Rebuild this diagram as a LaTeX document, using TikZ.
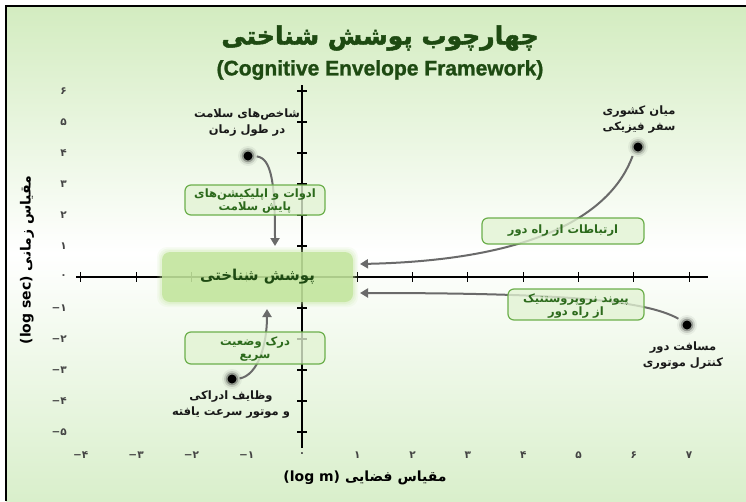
\documentclass[tikz,border=0pt]{standalone}
\usepackage{fontspec}
\usetikzlibrary{arrows.meta}
\TeXXeTstate=1
\setmainfont{Liberation Sans}
\newfontfamily\fa[Script=Arabic]{DejaVu Sans}
\newfontfamily\fab[Script=Arabic]{DejaVu Sans Bold}
\newfontfamily\fatitle[Script=Arabic,FakeBold=2]{DejaVu Sans Bold}
\newfontfamily\heavysans[FakeBold=1.2]{Liberation Sans Bold}
\newfontfamily\fanum{DejaVu Sans Bold}

\definecolor{bgtop}{HTML}{D3ECC0}
\definecolor{bgbot}{HTML}{D9EFCB}
\definecolor{titlegreen}{HTML}{1E4A12}
\definecolor{boxtext}{HTML}{2C6A1C}
\definecolor{boxfill}{HTML}{E2F3D3}
\definecolor{boxline}{HTML}{6CAF4C}
\definecolor{envfill}{HTML}{C2E59C}
\definecolor{curvegray}{HTML}{6A6A6A}
\definecolor{ticktext}{HTML}{444444}

% glowing black marker
\newcommand\glowdot[2]{%
  \foreach \r/\o in {10/0.05,8/0.12,6.2/0.25}
    \fill[black,opacity=\o] (#2) circle (\r pt);
  \node[dotmark] (#1) at (#2) {};}

\tikzset{
  axisline/.style={line width=2pt,black},
  tickline/.style={line width=1.1pt,black},
  ticklab/.style={font=\fanum\fontsize{10.5}{12}\selectfont,text=ticktext,inner sep=0pt},
  axislab/.style={font=\fab\fontsize{14}{16}\selectfont,text=black,inner sep=0pt},
  dotmark/.style={circle,fill=black,inner sep=0pt,minimum size=9pt},
  ptlabel/.style={font=\fab\fontsize{11.5}{16}\selectfont,text=black!90,align=center,inner sep=0pt},
  notebox/.style={draw=boxline,line width=1.2pt,fill=boxfill,fill opacity=0.78,text opacity=1,
    rounded corners=6pt,text=boxtext,align=center,inner sep=0pt,
    font=\fab\fontsize{11.5}{13}\selectfont},
  twoline/.style={text height=25pt,text depth=4pt},
  envbox/.style={fill=envfill,fill opacity=0.82,text opacity=1,rounded corners=8pt,
    minimum width=191pt,minimum height=50pt,inner sep=0pt,text=titlegreen,
    font=\fab\fontsize{15}{18}\selectfont},
  link/.style={curvegray,line width=2pt,-{Triangle[length=8pt,width=9pt]}},
}

\begin{document}
\begin{tikzpicture}[x=1pt,y=-1pt]
\useasboundingbox (0,0) rectangle (746,501);
\fill[white] (0,0) rectangle (746,501);
\shade[top color=bgtop,bottom color=bgbot,middle color=white] (6,6) rectangle (746,501);
\draw[line width=2pt] (6,501) -- (6,6) -- (746,6);

% titles
\node[font=\fatitle\fontsize{25}{30}\selectfont,text=titlegreen] (title) at (380,38)
  {\beginR چهارچوب پوشش شناختی\endR};
\node[font=\heavysans\fontsize{21}{24}\selectfont,text=titlegreen] (subtitle) at (380,70)
  {(Cognitive Envelope Framework)};

% axes
\draw[axisline] (76,277) -- (708,277);
\draw[axisline] (302,85) -- (302,448);
\foreach \k in {-4,...,7}
  \draw[tickline] ({302+55.3*\k},272) -- ++(0,10);
\foreach \k in {-6,...,5}
  \draw[tickline] (297,{277+31*\k}) -- ++(10,0);

\foreach \k/\t in {-4/−۴,-3/−۳,-2/−۲,-1/−۱,0/۰,1/۱,2/۲,3/۳,4/۴,5/۵,6/۶,7/۷}
  \node[ticklab] (xl\k) at ({302+55.3*\k},455) {\t};
\foreach \k/\t in {6/۶,5/۵,4/۴,3/۳,2/۲,1/۱,0/۰,-1/−۱,-2/−۲,-3/−۳,-4/−۴,-5/−۵}
  \node[ticklab,anchor=east] (yl\k) at (67,{277-31*\k}) {\t};

\node[axislab] (xlabel) at (365,478) {\beginR مقیاس فضایی \beginL(log m)\endL\endR};
\node[axislab,rotate=90] (ylabel) at (27,260) {\beginR مقیاس زمانی \beginL(log sec)\endL\endR};

% markers and their labels
\glowdot{pA}{248,156}
\glowdot{pB}{638,147}
\glowdot{pC}{687,325}
\glowdot{pD}{232,379}

\node[ptlabel] (lA) at (247,123) {\beginR شاخص‌های سلامت\endR\\\beginR در طول زمان\endR};
\node[ptlabel] (lB) at (639,120) {\beginR میان کشوری\endR\\\beginR سفر فیزیکی\endR};
\node[ptlabel] (lC) at (683,356) {\beginR مسافت دور\endR\\\beginR کنترل موتوری\endR};
\node[ptlabel] (lD) at (231,405) {\beginR وظایف ادراکی\endR\\\beginR و موتور سرعت یافته\endR};

% arrow tips at the envelope
\coordinate (t1) at (275,246);
\coordinate (t2) at (360,264);
\coordinate (t3) at (360,293);
\coordinate (t4) at (267,309);

\draw[link,shorten <=4pt] (pA.east) .. controls (272,158) and (275,185) .. (t1);
\draw[link,shorten <=6pt] (pB.south west) .. controls (612,212) and (540,260) .. (t2);
\draw[link,shorten <=6pt] (pC.north west) .. controls (645,300) and (560,293) .. (t3);
\draw[link,shorten <=3pt] (pD.east) .. controls (258,375) and (267,345) .. (t4);

% the envelope with a soft halo
\foreach \d/\o in {5/0.10,3.5/0.15,2/0.2}
  \fill[envfill,opacity=\o,rounded corners=10pt] (162-\d,252-\d) rectangle (353+\d,302+\d);
\node[envbox] (env) at (257.5,277) {\beginR پوشش شناختی\endR};

% annotation boxes
\node[notebox,twoline,minimum width=140pt,minimum height=30pt] (n1) at (255,200)
  {\beginR ادوات و اپلیکیشن‌های\endR\\\beginR پایش سلامت\endR};
\node[notebox,minimum width=162pt,minimum height=26pt] (n2) at (563,231)
  {\beginR ارتباطات از راه دور\endR};
\node[notebox,twoline,minimum width=140pt,minimum height=32pt] (n3) at (255,348)
  {\beginR درک وضعیت\endR\\\beginR سریع\endR};
\node[notebox,twoline,minimum width=136pt,minimum height=31pt] (n4) at (576,304.5)
  {\beginR پیوند نروپروستتیک\endR\\\beginR از راه دور\endR};
\end{tikzpicture}
\end{document}
